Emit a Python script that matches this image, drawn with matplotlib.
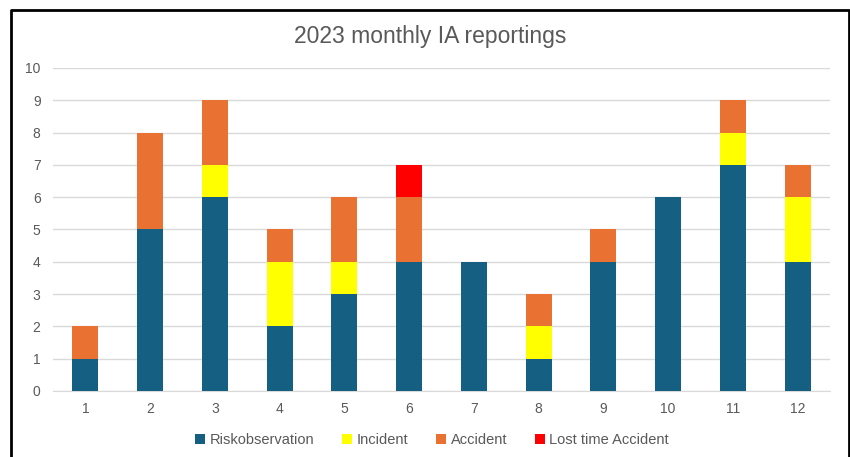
import matplotlib
matplotlib.use("Agg")
import matplotlib.pyplot as plt
import numpy as np
from matplotlib.lines import Line2D

months = ["1", "2", "3", "4", "5", "6", "7", "8", "9", "10", "11", "12"]
riskobservation = [1, 5, 6, 2, 3, 4, 4, 1, 4, 6, 7, 4]
incident = [0, 0, 1, 2, 1, 0, 0, 1, 0, 0, 1, 2]
accident = [1, 3, 2, 1, 2, 2, 0, 1, 1, 0, 1, 1]
lost_time_accident = [0, 0, 0, 0, 0, 1, 0, 0, 0, 0, 0, 0]

series = [
    ("Riskobservation", riskobservation, "#156082"),
    ("Incident", incident, "#FFFF00"),
    ("Accident", accident, "#E97132"),
    ("Lost time Accident", lost_time_accident, "#FF0000"),
]

plt.rcParams['font.family'] = ['Liberation Sans', 'DejaVu Sans']
fig = plt.figure(figsize=(8.5, 4.57), dpi=100)
ax = fig.add_axes([53/850, 1-391/457, (830-53)/850, (391-68)/457])

x = np.arange(len(months))
bottom = np.zeros(len(months))
for name, vals, col in series:
    v = np.array(vals, dtype=float)
    ax.bar(x, v, bottom=bottom, width=0.4, color=col, label=name, zorder=3)
    bottom += v

ax.set_xlim(-0.5, len(months) - 0.5)
ax.set_ylim(0, 10)
ax.set_yticks(range(0, 11))
ax.set_xticks(x)
ax.set_xticklabels(months)
ax.grid(axis='y', color='#D9D9D9', linewidth=1, zorder=0)
for s in ['top', 'right', 'left']:
    ax.spines[s].set_visible(False)
ax.spines['bottom'].set_color('#D9D9D9')
ax.tick_params(axis='both', length=0, colors='#595959', labelsize=10)
ax.tick_params(axis='x', pad=8)
ax.tick_params(axis='y', pad=9)

fig.text(430/850, 1-36/457, "2023 monthly IA reportings", ha='center', va='center',
         fontsize=16.5, color='#595959')

handles, labels = ax.get_legend_handles_labels()
fig.legend(handles, labels, loc='center', bbox_to_anchor=(432/850, 1-440/457), ncol=4,
           frameon=False, fontsize=10.5, labelcolor='#595959', handlelength=0.7,
           handleheight=0.7, handletextpad=0.3, columnspacing=1.9)

# chart frame border (left, top, right)
fx0, fx1 = 10.5/850, 848.5/850
fy1 = 1 - 9.5/457
fig.add_artist(Line2D([fx0, fx0, fx1, fx1], [-0.01, fy1, fy1, -0.01],
                      transform=fig.transFigure, color='black', linewidth=2))

fig.savefig("out.png", dpi=100, facecolor='white')
